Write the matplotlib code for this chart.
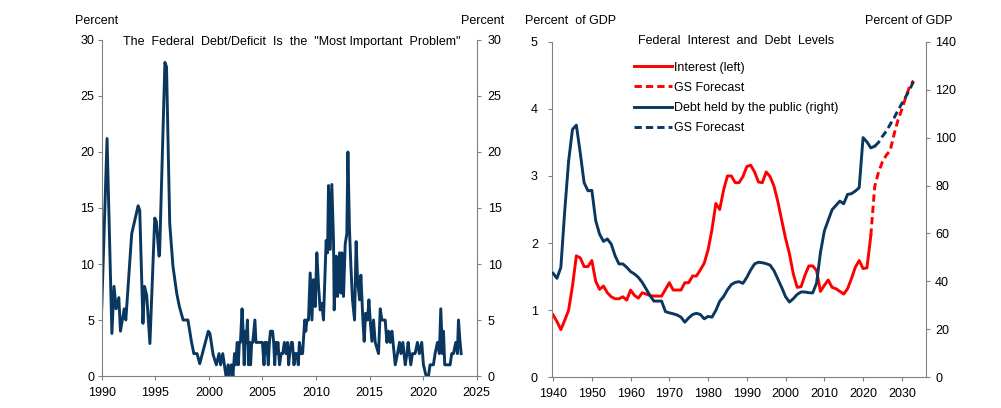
import matplotlib
matplotlib.use("Agg")
import matplotlib.pyplot as plt
import numpy as np

plt.rcParams['font.family'] = ['Liberation Sans', 'DejaVu Sans']

NAVY = '#0a3760'
RED = '#ff0000'
GREY = '#808080'

# --- left panel: share naming debt/deficit as "most important problem" (%)
mip_year = [
    1990.00, 1990.50, 1990.95, 1991.15, 1991.35, 1991.60, 1991.75, 1992.10, 1992.25, 1992.80,
    1993.40, 1993.55, 1993.85, 1994.00, 1994.20, 1994.50, 1994.95, 1995.10, 1995.35, 1995.40,
    1995.90, 1996.05, 1996.35, 1996.65, 1997.00, 1997.25, 1997.60, 1998.05, 1998.37, 1998.60,
    1998.90, 1999.15, 1999.95, 2000.10, 2000.40, 2000.70, 2000.95, 2001.10, 2001.30, 2001.60,
    2001.80, 2001.90, 2002.10, 2002.25, 2002.40, 2002.50, 2002.65, 2002.75, 2002.85, 2002.95,
    2003.00, 2003.10, 2003.20, 2003.30, 2003.40, 2003.50, 2003.60, 2003.70, 2003.80, 2003.90,
    2004.00, 2004.10, 2004.20, 2004.30, 2004.40, 2004.60, 2005.00, 2005.15, 2005.25, 2005.40,
    2005.55, 2005.65, 2005.75, 2005.95, 2006.05, 2006.15, 2006.25, 2006.35, 2006.45, 2006.60,
    2006.75, 2006.90, 2007.05, 2007.20, 2007.35, 2007.45, 2007.55, 2007.70, 2007.80, 2007.95,
    2008.05, 2008.20, 2008.35, 2008.45, 2008.60, 2008.75, 2008.95, 2009.05, 2009.15, 2009.30,
    2009.46, 2009.62, 2009.77, 2009.93, 2010.08, 2010.24, 2010.39, 2010.55, 2010.70, 2010.95,
    2011.08, 2011.17, 2011.33, 2011.48, 2011.64, 2011.70, 2011.89, 2012.01, 2012.20, 2012.32,
    2012.42, 2012.57, 2012.73, 2012.88, 2012.98, 2013.13, 2013.26, 2013.41, 2013.60, 2013.75,
    2013.88, 2014.07, 2014.19, 2014.38, 2014.50, 2014.63, 2014.81, 2014.94, 2015.06, 2015.22,
    2015.37, 2015.53, 2015.84, 2016.00, 2016.15, 2016.46, 2016.62, 2016.77, 2016.93, 2017.09,
    2017.30, 2017.40, 2017.61, 2017.80, 2017.93, 2018.11, 2018.33, 2018.49, 2018.60, 2018.73,
    2018.85, 2019.00, 2019.25, 2019.47, 2019.65, 2019.87, 2020.03, 2020.28, 2020.50, 2020.65,
    2020.96, 2021.12, 2021.34, 2021.52, 2021.65, 2021.80, 2021.90, 2022.02, 2022.52, 2022.67,
    2022.83, 2023.05, 2023.20, 2023.30, 2023.45, 2023.55,
]
mip_pct = [
    6, 21.2, 3.8, 8, 6, 7, 4, 6, 5, 12.7,
    15.2, 14.8, 4.7, 8, 7.2, 2.9, 14.1, 13.8, 10.7, 10.8,
    28, 27.6, 13.6, 9.8, 7.4, 6.2, 5, 5, 3.1, 2,
    2, 1.1, 4.0, 3.8, 1.9, 1.0, 2, 1, 2, 0,
    1, 0, 1, 0, 2, 1, 3, 1, 3, 3,
    4, 6, 4, 1, 4, 3, 5, 1, 3, 1,
    3, 3, 4, 5, 3, 3, 3, 1, 3, 3,
    1, 3, 4, 4, 3, 1, 3, 2, 3, 1,
    2, 2, 3, 2, 3, 1, 2, 3, 3, 1,
    2, 2, 1, 3, 2, 2, 5, 4, 5, 5,
    9.2, 5, 8.6, 6.2, 11, 8, 5.9, 6.5, 5, 12.1,
    11, 17, 11.3, 17.1, 12, 5.9, 10.7, 7.1, 11, 7.4,
    11, 7.1, 11.8, 12.7, 20, 13, 9.8, 6.8, 5, 12,
    8.6, 6.8, 9, 5, 3.1, 5.6, 5, 6.8, 5, 3.1,
    5, 3, 2, 6, 5, 5, 3, 4, 3, 4,
    2, 1, 2, 3, 2, 3, 1, 2, 3, 2,
    1, 2, 2, 3, 2, 3, 1, 0, 0, 1,
    1, 2, 3, 2, 6, 2, 4, 1, 1, 2,
    2, 3, 2, 5, 3, 2,
]

# --- right panel: federal net interest (% GDP, left) and debt held by public (% GDP, right)
hist_year = list(range(1940, 2023))
interest = [
    0.93, 0.83, 0.71, 0.85, 1.00, 1.36, 1.81, 1.78, 1.65, 1.65,
    1.74, 1.43, 1.31, 1.36, 1.26, 1.20, 1.17, 1.17, 1.20, 1.15,
    1.30, 1.22, 1.18, 1.26, 1.24, 1.22, 1.21, 1.21, 1.21, 1.31,
    1.41, 1.30, 1.30, 1.30, 1.41, 1.41, 1.51, 1.51, 1.60, 1.70,
    1.90, 2.20, 2.59, 2.50, 2.79, 3.00, 3.00, 2.90, 2.90, 2.99,
    3.14, 3.16, 3.06, 2.91, 2.90, 3.06, 2.99, 2.85, 2.62, 2.34,
    2.07, 1.84, 1.54, 1.34, 1.35, 1.52, 1.66, 1.66, 1.59, 1.28,
    1.37, 1.45, 1.34, 1.32, 1.28, 1.24, 1.32, 1.47, 1.64, 1.74,
    1.62, 1.63, 2.11,
]
debt_year = list(range(1940, 2024))
debt = [
    43.4, 41.3, 45.9, 69.4, 90.2, 103.4, 105.2, 93.7, 81.2, 77.8,
    78.0, 65.3, 59.7, 56.7, 57.7, 55.6, 50.7, 47.3, 47.3, 45.9,
    44.1, 43.1, 41.7, 39.6, 36.9, 34.1, 31.8, 31.8, 31.8, 27.4,
    26.9, 26.5, 26.0, 25.1, 23.0, 24.8, 26.2, 26.7, 26.2, 24.4,
    25.4, 25.1, 27.9, 31.7, 33.7, 36.5, 38.7, 39.6, 39.9, 39.2,
    41.7, 44.8, 47.3, 48.0, 47.8, 47.4, 46.8, 44.5, 41.0, 37.5,
    33.6, 31.4, 32.8, 34.6, 35.6, 35.6, 35.3, 35.2, 39.3, 52.0,
    61.0, 65.5, 69.9, 71.7, 73.5, 72.4, 76.3, 76.6, 77.7, 79.1,
    100.0, 98.2, 95.7, 96.4,
]
fc_int_year = list(range(2022, 2034))
fc_interest = [2.11, 2.84, 3.06, 3.21, 3.31, 3.38, 3.62, 3.83, 3.99, 4.17, 4.33, 4.42]
fc_debt_year = list(range(2023, 2034))
fc_debt = [96.4, 98.0, 100.5, 102.7, 105.5, 108.2, 111.3, 114.2, 117.0, 120.0, 123.3]

fig = plt.figure(figsize=(10.01, 4.08), dpi=100)


def style_pair(ax, axr, left_pad, right_pad):
    for a in (ax, axr):
        a.spines['top'].set_visible(False)
    ax.spines['right'].set_visible(False)
    axr.spines['left'].set_visible(False)
    axr.spines['bottom'].set_visible(False)
    for s in ('left', 'bottom'):
        ax.spines[s].set_color(GREY)
    axr.spines['right'].set_color(GREY)
    ax.tick_params(axis='y', direction='out', length=3, width=0.8, color=GREY,
                   labelsize=9, pad=left_pad)
    axr.tick_params(axis='y', direction='out', length=3, width=0.8, color=GREY,
                    labelsize=9, pad=right_pad)
    ax.tick_params(axis='x', direction='out', length=3, width=0.8, color=GREY,
                   labelsize=9, pad=5)


# left chart
ax1 = fig.add_axes([0.1016, 0.0784, 0.3746, 0.8236])
ax1r = ax1.twinx()
ax1.plot(mip_year, mip_pct, color=NAVY, lw=2.1, solid_joinstyle='round')
ax1.set_xlim(1990, 2025)
ax1.set_xticks(range(1990, 2026, 5))
for a in (ax1, ax1r):
    a.set_ylim(0, 30)
    a.set_yticks(range(0, 31, 5))
style_pair(ax1, ax1r, 2.5, 5)

fig.text(96.5 / 1001, 1 - 20.5 / 408, 'Percent', ha='center', va='center', fontsize=9)
fig.text(482.5 / 1001, 1 - 20.5 / 408, 'Percent', ha='center', va='center', fontsize=9)
fig.text(291.5 / 1001, 1 - 42.5 / 408,
         'The  Federal  Debt/Deficit  Is  the  "Most Important  Problem"',
         ha='center', va='center', fontsize=9)

# right chart
ax2 = fig.add_axes([0.5512, 0.0752, 0.3739, 0.8226])
ax2r = ax2.twinx()
l1, = ax2.plot(hist_year, interest, color=RED, lw=2.1, label='Interest (left)')
l2, = ax2.plot(fc_int_year, fc_interest, color=RED, lw=2.1, ls=(0, (2.5, 1.4)),
               label='GS Forecast')
l3, = ax2r.plot(debt_year, debt, color=NAVY, lw=2.1,
                label='Debt held by the public (right)')
l4, = ax2r.plot(fc_debt_year, fc_debt, color=NAVY, lw=2.1, ls=(0, (2.5, 1.4)),
                label='GS Forecast')
ax2.set_xlim(1939.65, 2036.25)
ax2.set_xticks(range(1940, 2031, 10))
ax2.set_ylim(0, 5)
ax2.set_yticks(range(0, 6))
ax2r.set_ylim(0, 140)
ax2r.set_yticks(range(0, 141, 20))
style_pair(ax2, ax2r, 7, 3.5)

fig.text(570.3 / 1001, 1 - 20.5 / 408, 'Percent  of GDP', ha='center', va='center', fontsize=9)
fig.text(909.2 / 1001, 1 - 20.5 / 408, 'Percent of GDP', ha='center', va='center', fontsize=9)
fig.text(735.8 / 1001, 1 - 41 / 408, 'Federal  Interest  and  Debt  Levels',
         ha='center', va='center', fontsize=9)

ax2r.legend(handles=[l1, l2, l3, l4], loc='upper left',
            bbox_to_anchor=(634.3 / 1001, 1 - 61.5 / 408), bbox_transform=fig.transFigure,
            frameon=False, fontsize=9, handlelength=3.0, handletextpad=0.15,
            labelspacing=0.66, borderpad=0, borderaxespad=0)

fig.savefig('out.png', dpi=100)
